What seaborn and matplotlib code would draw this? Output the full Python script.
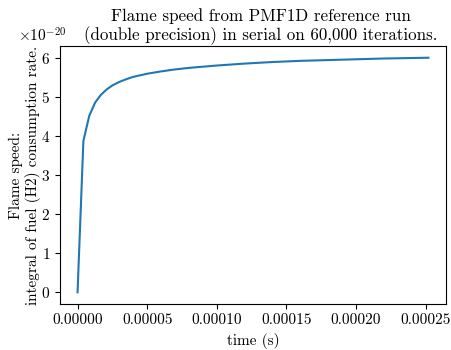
import numpy as np
import pandas as pd
import matplotlib
matplotlib.use("Agg")
import matplotlib.pyplot as plt
import seaborn as sns

# ---------- Data ----------
time_us = [0, 4.2, 8.4, 12.6, 16.8, 21, 25, 30, 35, 40, 50, 60, 70, 80, 90,
           100, 120, 140, 160, 180, 200, 220, 252]
speed_e20 = [0, 3.88, 4.52, 4.86, 5.06, 5.20, 5.30, 5.39, 5.46, 5.52, 5.60,
             5.66, 5.71, 5.75, 5.78, 5.81, 5.86, 5.90, 5.93, 5.95, 5.97,
             5.99, 6.01]

df = pd.DataFrame({
    "time": np.array(time_us) * 1e-6,
    "speed": np.array(speed_e20) * 1e-20,
})

# ---------- Style ----------
plt.rcParams["font.family"] = ["cmr10", "DejaVu Serif"]
plt.rcParams["mathtext.fontset"] = "cm"
plt.rcParams["axes.formatter.use_mathtext"] = True
plt.rcParams["font.size"] = 11

fig = plt.figure(figsize=(4.51, 3.5), dpi=100)
ax = fig.add_axes([60 / 451, 1 - 304 / 350, (446 - 60) / 451, (304 - 46) / 350])

sns.lineplot(data=df, x="time", y="speed", ax=ax, color="#1f77b4", linewidth=1.5)

ax.set_xticks([0, 0.00005, 0.0001, 0.00015, 0.0002, 0.00025])
ax.set_xticklabels(["0.00000", "0.00005", "0.00010", "0.00015", "0.00020", "0.00025"])
ax.set_xlabel("time (s)")
ax.set_ylabel("Flame speed:\nintegral of fuel (H2) consumption rate.", labelpad=0)
# fixed y keeps the title from being pushed up above the offset text
ax.set_title("Flame speed from PMF1D reference run\n(double precision) in serial on 60,000 iterations.",
             x=0.52, y=1.0, pad=4, fontsize=12.2)
ax.yaxis.get_offset_text().set_x(-0.11)

fig.savefig("out.png", dpi=100)
